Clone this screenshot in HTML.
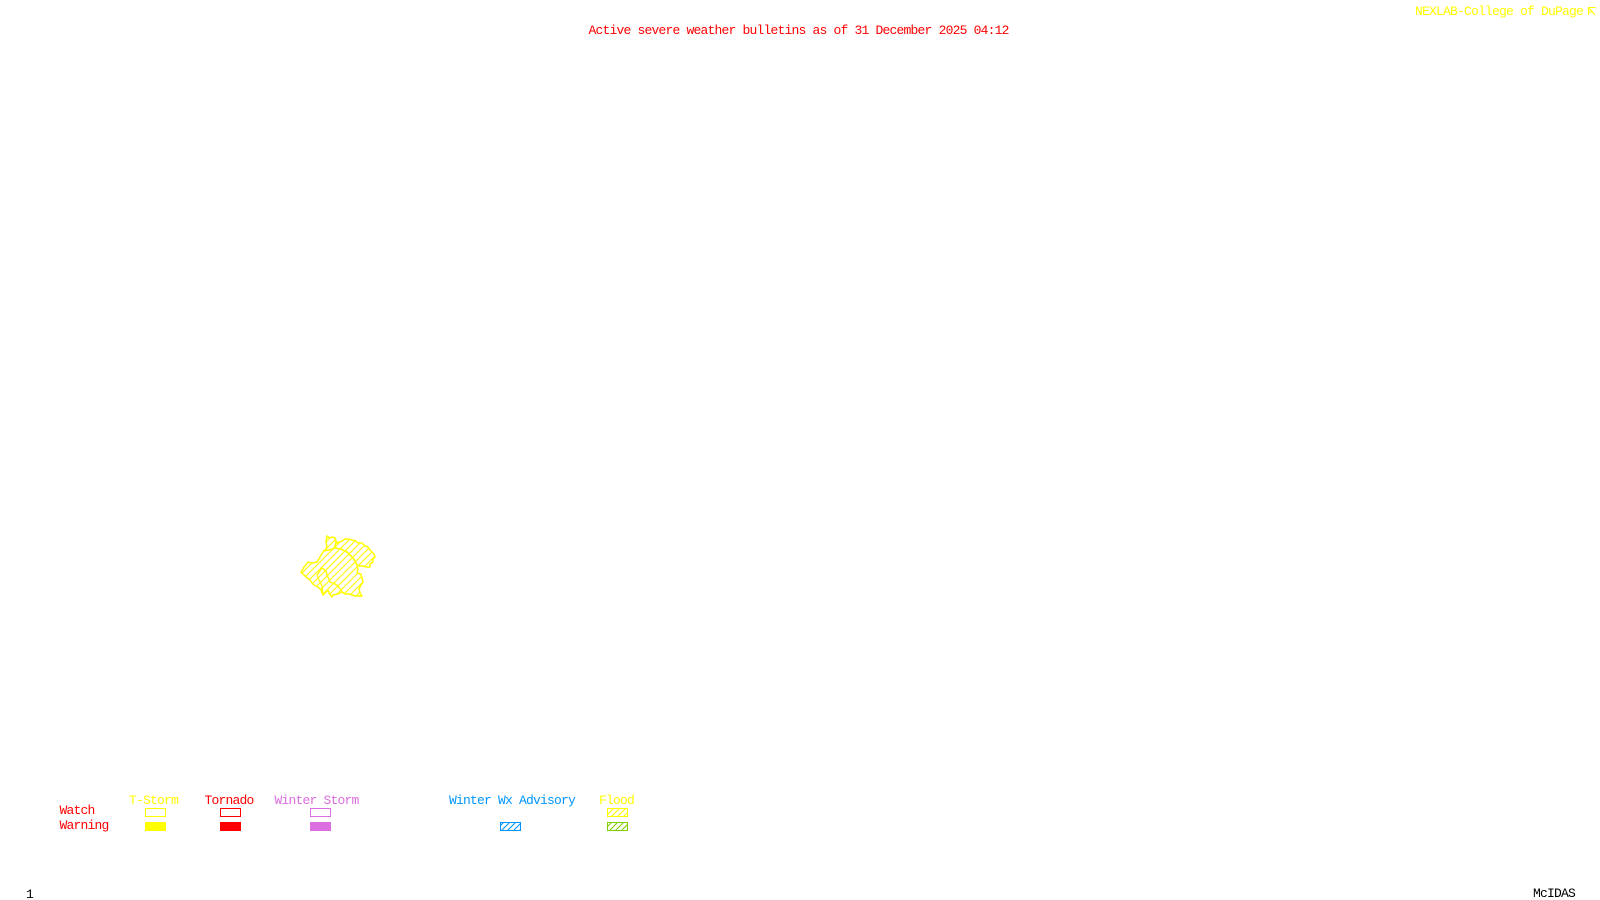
<!DOCTYPE html>
<html>
<head>
<meta charset="utf-8">
<title>Active severe weather bulletins</title>
<style>
html,body{margin:0;padding:0;background:#fff;width:1600px;height:900px;overflow:hidden}
svg{display:block}
text{font-family:"Liberation Mono",monospace;font-size:13px;letter-spacing:-0.8px;white-space:pre}
</style>
</head>
<body>
<svg width="1600" height="900" viewBox="0 0 1600 900" xmlns="http://www.w3.org/2000/svg">
<defs>
<pattern id="h" width="7" height="7" patternUnits="userSpaceOnUse">
<path d="M-1 8L8 -1M-1 1L1 -1M6 8L8 6" stroke="#ffff00" stroke-width="1.1" fill="none"/>
</pattern>
<pattern id="hl" width="6" height="6" patternUnits="userSpaceOnUse">
<path d="M-1 7L7 -1M-1 1L1 -1M5 7L7 5" stroke="#ffff00" stroke-width="1.1" fill="none"/>
</pattern>
<pattern id="hb" width="6" height="6" patternUnits="userSpaceOnUse">
<path d="M-1 7L7 -1M-1 1L1 -1M5 7L7 5" stroke="#0096ff" stroke-width="1.1" fill="none"/>
</pattern>
<pattern id="hg" width="6" height="6" patternUnits="userSpaceOnUse">
<path d="M-1 7L7 -1M-1 1L1 -1M5 7L7 5" stroke="#80d000" stroke-width="1.1" fill="none"/>
</pattern>
</defs>

<text x="588.5" y="34" fill="#ff0000">Active severe weather bulletins as of 31 December 2025 04:12</text>
<text x="1415" y="15" fill="#ffff00">NEXLAB-College of DuPage</text>
<path d="M1588.5 15V7.5H1595.5M1589 8L1595 15M1589 12H1592" fill="none" stroke="#ffff00" stroke-width="1.1"/>

<path d="M327 536L330 538L332 537L335 538L336 541L337 543L340 542L342 541L345 539L348 539L352 540L356 541L358 543L362 543L365 546L368 547L370 550L372 552L374 554L375 557L373 559L373 562L370 564L370 567L366 567L363 566L360 566L357 565L358 569L357 573L361 574L362 578L363 582L361 585L359 589L360 593L362 596L355 596L349 594L345 594L342 592L338 594L333 595L332 597L329 593L328 590L323 595L321 590L318 587L314 585L312 583L310 580L306 577L301 572L303 569L304 567L308 562L312 563L317 562L320 557L323 552L326 549L327 547L326 542Z" fill="url(#h)" stroke="#ffff00" stroke-width="1.5" stroke-linejoin="round"/>
<g fill="none" stroke="#ffff00" stroke-linejoin="round">
<path d="M323 551L329 550L335 548L341 549L347 552L350 555L353 558L355 561L357 565" stroke-width="1.6"/>
<path d="M335 538L336 543L334 548" stroke-width="1.4"/>
<path d="M317 575L322 568L326 571L327 575L330 582L335 584L338 586L341 590L343 593" stroke-width="1.4"/>
<path d="M317 575L319 580L322 586L323 594" stroke-width="1.2"/>
</g>

<text x="129" y="804" fill="#ffff00">T-Storm</text>
<text x="204.5" y="804" fill="#ff0000">Tornado</text>
<text x="274.5" y="804" fill="#dc6ee0">Winter Storm</text>
<text x="449" y="804" fill="#0096ff">Winter Wx Advisory</text>
<text x="599" y="804" fill="#ffff00">Flood</text>
<text x="59.5" y="814" fill="#ff0000">Watch</text>
<text x="59.5" y="829" fill="#ff0000">Warning</text>

<g shape-rendering="crispEdges" stroke-width="1">
<rect x="145.5" y="808.5" width="20" height="8" fill="none" stroke="#ffff00"/>
<rect x="145" y="822" width="21" height="9" fill="#ffff00"/>
<rect x="220.5" y="808.5" width="20" height="8" fill="none" stroke="#ff0000"/>
<rect x="220" y="822" width="21" height="9" fill="#ff0000"/>
<rect x="310.5" y="808.5" width="20" height="8" fill="none" stroke="#dc6ee0"/>
<rect x="310" y="822" width="21" height="9" fill="#dc6ee0"/>
</g>
<rect x="500.5" y="822.5" width="20" height="8" fill="url(#hb)" stroke="#0096ff"/>
<rect x="607.5" y="808.5" width="20" height="8" fill="url(#hl)" stroke="#ffff00"/>
<rect x="607.5" y="822.5" width="20" height="8" fill="url(#hg)" stroke="#80d000"/>

<text x="26" y="898" fill="#000000">1</text>
<text x="1533" y="897" fill="#000000">McIDAS</text>
</svg>
</body>
</html>
